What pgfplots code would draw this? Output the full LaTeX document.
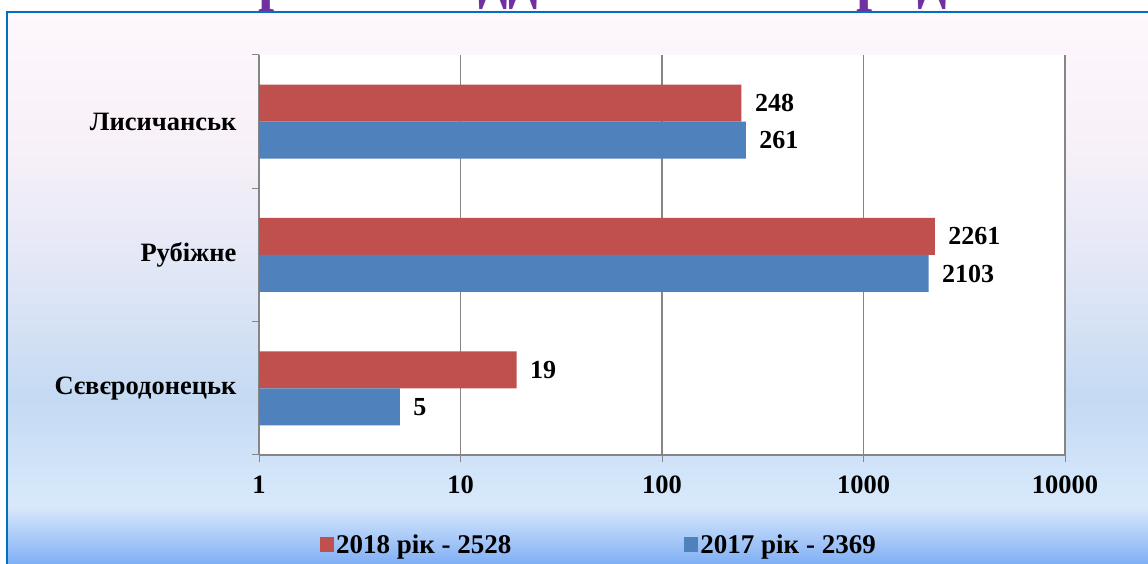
\documentclass[border=0pt]{standalone}
\usepackage{fontspec}
\setmainfont{Liberation Serif}
\usepackage{pgfplots}
\pgfplotsset{compat=1.18}
\definecolor{barred}{HTML}{C0504D}
\definecolor{barblue}{HTML}{4F81BD}
\definecolor{gridgrey}{HTML}{868686}
\definecolor{frameblue}{HTML}{0070C0}
\definecolor{titlepurple}{HTML}{7030A0}
\definecolor{bgA}{HTML}{FEF7FC}
\definecolor{bgB}{HTML}{F7F0F8}
\definecolor{bgC}{HTML}{DCE4F5}
\definecolor{bgD}{HTML}{C4DAF3}
\definecolor{bgE}{HTML}{D8E9FB}
\definecolor{bgF}{HTML}{80AFF5}

\begin{document}
\begin{tikzpicture}[x=1pt,y=1pt]
  \useasboundingbox (0,0) rectangle (1148,564);
  \begin{scope}
    \clip (0,0) rectangle (1148,564);
    \fill[white] (0,0) rectangle (1148,564);
    % background gradient, stacked bands
    \shade[top color=bgA, bottom color=bgB] (7,414) rectangle (1148,553);
    \shade[top color=bgB, bottom color=bgC] (7,264) rectangle (1148,414.5);
    \shade[top color=bgC, bottom color=bgD] (7,164) rectangle (1148,264.5);
    \shade[top color=bgD, bottom color=bgE] (7,57) rectangle (1148,164.5);
    \shade[top color=bgE, bottom color=bgF] (7,0) rectangle (1148,57.5);
    % title, cut off at the top edge
    \node[anchor=base, text=titlepurple, inner sep=0pt,
          font=\bfseries\fontsize{58}{62}\selectfont] at (582,564)
          {Архівні відділи міських рад};
    \draw[frameblue, line width=2.5pt] (7,-2) -- (7,552) -- (1150,552);
  \end{scope}

  \begin{axis}[
    at={(259pt,109pt)}, anchor=south west,
    scale only axis, width=806pt, height=400pt,
    xmode=log, log basis x=10, xmin=1, xmax=10000,
    xtick={1,10,100,1000,10000},
    xticklabels={1,10,100,1000,10000},
    minor xtick={},
    ymin=-0.5, ymax=2.5,
    ytick={-0.5,0.5,1.5,2.5}, yticklabels={},
    extra y ticks={0,1,2},
    extra y tick labels={Сєвєродонецьк,Рубіжне,Лисичанськ},
    extra y tick style={tick style={draw=none}},
    axis x line*=bottom, axis y line*=left,
    axis line style={gridgrey, line width=1.3pt},
    axis background/.style={fill=white},
    xmajorgrids, grid style={gridgrey, line width=1.2pt},
    tick align=outside, major tick length=7pt,
    tick style={gridgrey, line width=1pt},
    /pgf/number format/assume math mode=true,
    ticklabel style={font=\bfseries\fontsize{26.5}{30}\selectfont},
    xticklabel style={yshift=-10pt},
    yticklabel style={xshift=-12pt},
    point meta=explicit symbolic,
    nodes near coords,
    every node near coord/.append style={font=\bfseries\fontsize{26}{30}\selectfont,
      text=black, anchor=west, xshift=10pt},
    legend image code/.code={\fill[#1, draw=none] (-5pt,-7pt) rectangle (9pt,8pt);},
    legend style={at={(0.4218,-0.225)}, anchor=center, draw=none, fill=none,
      legend columns=2, font=\bfseries\fontsize{27}{30}\selectfont,
      /tikz/every even column/.append style={column sep=171pt}},
  ]
    \addplot[xbar, bar width=37pt, bar shift=18.5pt, fill=barred, draw=none,
      every node near coord/.append style={yshift=18.5pt}]
      coordinates {(19,0) [19] (2261,1) [2261] (248,2) [248]};
    \addlegendentry{2018 рік - 2528}
    \addplot[xbar, bar width=37pt, bar shift=-18.5pt, fill=barblue, draw=none,
      every node near coord/.append style={yshift=-18.5pt}]
      coordinates {(5,0) [5] (2103,1) [2103] (261,2) [261]};
    \addlegendentry{2017 рік - 2369}
  \end{axis}
\end{tikzpicture}
\end{document}
